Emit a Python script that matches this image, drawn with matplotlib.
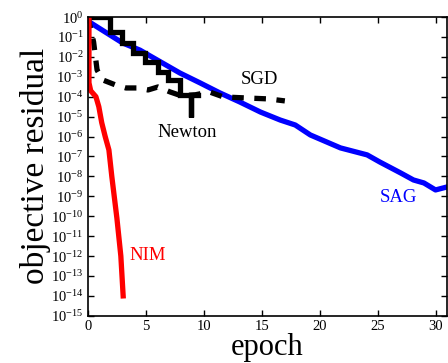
import numpy as np
import matplotlib
matplotlib.use('Agg')
import matplotlib.pyplot as plt

plt.rcParams['font.family'] = ['Liberation Serif', 'DejaVu Serif']
plt.rcParams['mathtext.fontset'] = 'custom'
plt.rcParams['mathtext.rm'] = 'Liberation Serif'
plt.rcParams['mathtext.it'] = 'Liberation Serif:italic'

# data, residuals as log10 exponents
sag_epoch = [0, 3, 4.5, 7.95, 9.7, 11.4, 13.1, 14.9, 16.6, 17.9, 19.2, 21.8, 24.1, 25.2, 27.0, 28.1, 29.0, 30.0, 31.0]
sag_log = [-0.2, -1.3, -1.66, -2.81, -3.31, -3.81, -4.26, -4.77, -5.17, -5.42, -5.92, -6.57, -6.92, -7.28, -7.83, -8.18, -8.33, -8.68, -8.53]

newton_epoch = [0, 1.9, 1.9, 2.95, 2.95, 3.9, 3.9, 4.95, 4.95, 6.05, 6.05, 6.9, 6.9, 7.95, 7.95, 8.9, 8.9, 8.9, 9.5]
newton_log = [0, 0, -0.75, -0.75, -1.3, -1.3, -1.8, -1.8, -2.26, -2.26, -2.76, -2.76, -3.16, -3.16, -3.91, -3.91, -5.02, -3.91, -3.91]

sgd_epoch = [0, 0.5, 0.8, 1.3, 2.4, 3.3, 4.2, 5.2, 6.05, 7.1, 8.1, 9.3, 10.5, 11.7, 13.6, 15.6, 17.0]
sgd_log = [0, -1.25, -2.66, -3.16, -3.41, -3.56, -3.56, -3.66, -3.51, -3.76, -3.96, -3.9, -3.76, -4.01, -4.06, -4.11, -4.21]

nim_epoch = [0.1, 0.1, 0.25, 0.7, 0.95, 1.2, 1.5, 1.82, 2.07, 2.51, 2.85, 3.05]
nim_log = [0, -3.3, -3.7, -4.0, -4.5, -5.3, -6.0, -6.67, -8.0, -10.1, -12.0, -14.0]

fig = plt.figure(figsize=(4.48, 3.63), dpi=100)
ax = fig.add_axes([0.196, 0.13, 0.802, 0.823])

lw = 3.8
ax.semilogy(sag_epoch, 10.0**np.array(sag_log), color='#0000ff', lw=lw, solid_joinstyle='round')
ax.semilogy(newton_epoch, 10.0**np.array(newton_log), color='black', lw=lw, solid_joinstyle='miter')
ax.semilogy(sgd_epoch, 10.0**np.array(sgd_log), color='black', lw=lw, dashes=(2.2, 2.0))
ax.semilogy(nim_epoch, 10.0**np.array(nim_log), color='#ff0000', lw=lw)

ax.set_xlim(0, 31)
ax.set_ylim(1e-15, 1)
ax.set_xticks([0, 5, 10, 15, 20, 25, 30])
ax.set_yticks([10.0**k for k in range(0, -16, -1)])
ax.set_yticklabels(['10$^{%d}$' % k for k in range(0, -16, -1)])
ax.minorticks_off()
ax.tick_params(direction='in', top=True, right=True, labelsize=10.5, length=4, width=1, pad=3)
for s in ax.spines.values():
    s.set_linewidth(1.2)

ax.text(14.8, 10**-3.15, 'SGD', fontsize=13.5, ha='center', va='center')
ax.text(8.6, 10**-5.8, 'Newton', fontsize=13.5, ha='center', va='center')
ax.text(26.8, 10**-9.05, 'SAG', fontsize=13.5, ha='center', va='center', color='#0000ff')
ax.text(5.2, 10**-11.95, 'NIM', fontsize=13.5, ha='center', va='center', color='#ff0000')

ax.set_xlabel('epoch', fontsize=22, labelpad=0)
ax.set_ylabel('objective residual', fontsize=24, labelpad=0)

fig.savefig('out.png', dpi=100)
